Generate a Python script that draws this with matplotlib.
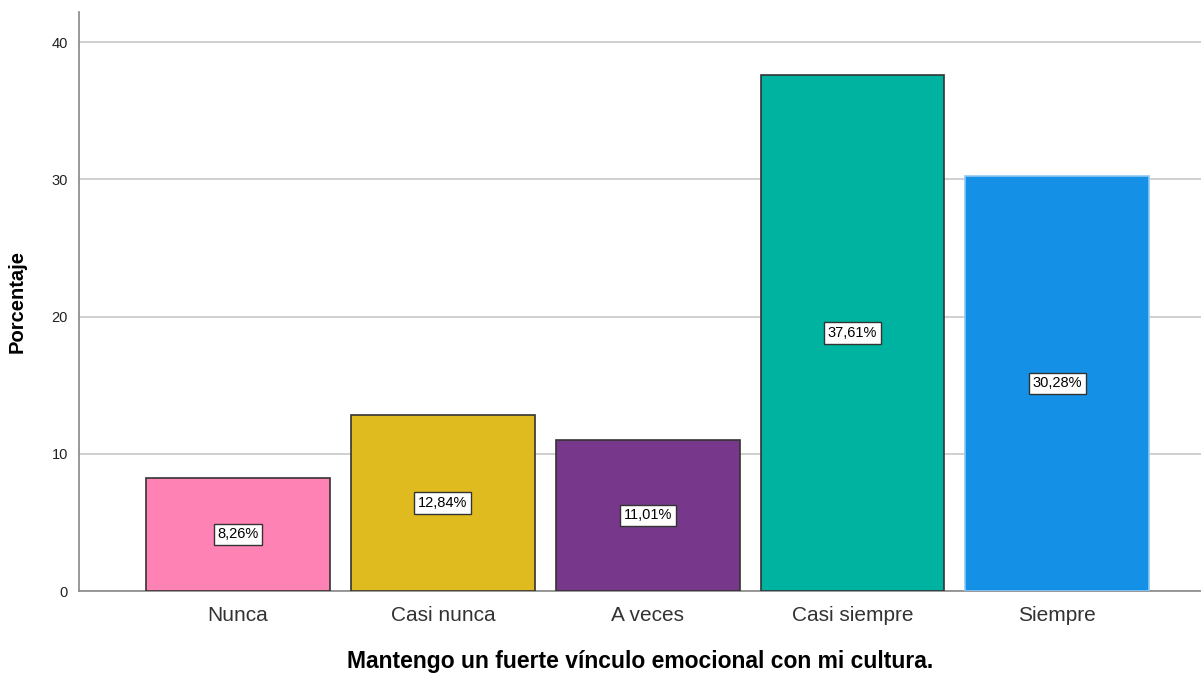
import matplotlib.pyplot as plt
import numpy as np

plt.rcParams["font.family"] = ["Liberation Sans", "DejaVu Sans"]

categories = ["Nunca", "Casi nunca", "A veces", "Casi siempre", "Siempre"]
percentages = [8.26, 12.84, 11.01, 37.61, 30.28]
bar_colors = ["#FF82B4", "#E0BB1F", "#77388C", "#00B2A0", "#1490E6"]
edge_colors = ["#333333", "#333333", "#333333", "#333333", "#8EC8F2"]

fig = plt.figure(figsize=(12.01, 6.73), dpi=100)
ax = fig.add_axes([0.0658, 0.1218, 0.934, 0.8604])

x = np.arange(len(categories))
ax.bar(x, percentages, width=0.898, color=bar_colors, edgecolor=edge_colors,
       linewidth=1.2, zorder=3)

# value labels in the middle of each bar
for xi, val in zip(x, percentages):
    ax.text(xi, val / 2, f"{val:.2f}%".replace(".", ","), ha="center", va="center",
            fontsize=10.5, color="black", zorder=4,
            bbox=dict(boxstyle="square,pad=0.25", facecolor="white",
                      edgecolor="#333333", linewidth=1))

ax.set_xlim(-0.776, 4.70)
ax.set_ylim(0, 42.2)
ax.set_yticks([0, 10, 20, 30, 40])
ax.set_xticks(x)
ax.set_xticklabels(categories, fontsize=15, color="#333333")
ax.tick_params(axis="y", length=0, pad=8, labelsize=10.5, labelcolor="#222222")
ax.tick_params(axis="x", length=0, pad=11)

ax.grid(axis="y", color="#C8C8C8", linewidth=1.2, zorder=0)
for side in ["top", "right"]:
    ax.spines[side].set_visible(False)
ax.spines["left"].set_color("#888888")
ax.spines["bottom"].set_color("#888888")
ax.spines["left"].set_linewidth(1.2)
ax.spines["bottom"].set_linewidth(1.2)

ax.set_ylabel("Porcentaje", fontsize=14.5, fontweight="bold", labelpad=18)
ax.set_xlabel("Mantengo un fuerte vínculo emocional con mi cultura.", fontsize=16.5,
              fontweight="bold", labelpad=18)

plt.savefig("out.png", dpi=100)
